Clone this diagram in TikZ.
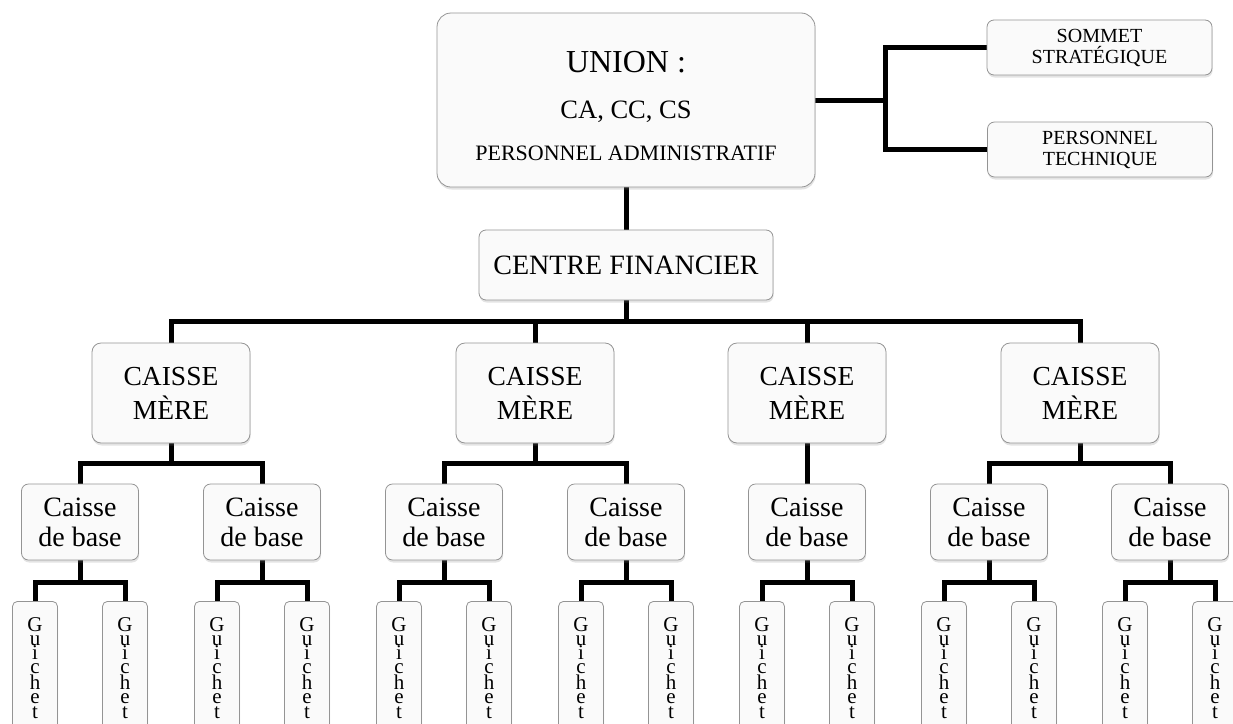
\documentclass[tikz,border=0pt]{standalone}
\usepackage{fontspec}
\setmainfont{Liberation Serif}
\usetikzlibrary{shadows,backgrounds}
\begin{document}
\begin{tikzpicture}[x=1pt,y=-1pt,
  box/.style={draw=black!42, line width=0.8pt, fill=black!2, rounded corners=7pt,
    drop shadow={shadow xshift=0.6pt, shadow yshift=-2.5pt, opacity=0.22},
    inner sep=0pt, align=center, text=black},
  link/.style={line width=5pt, line join=miter},
  lbl/.style={anchor=base, inner sep=0pt, text=black},
  cmbox/.style={box, minimum width=158pt, minimum height=100pt, rounded corners=9pt,
    font=\fontsize{27.5}{34}\selectfont},
  cdbbox/.style={box, minimum width=117pt, minimum height=76pt,
    font=\fontsize{28}{30}\selectfont},
  gbox/.style={box, anchor=north, minimum width=45pt, minimum height=133pt, rounded corners=5pt,
    font=\fontsize{21}{14.2}\selectfont},
  sidebox/.style={box, minimum width=225pt, minimum height=55pt,
    font=\fontsize{20}{21}\selectfont}
]
\useasboundingbox (0,0) rectangle (1233,723);
\clip (0,0) rectangle (1233,723);

% top
\node[box, minimum width=378pt, minimum height=174pt, rounded corners=14pt] (union) at (626,100) {};
\node[lbl, font=\fontsize{32}{32}\selectfont] (u1) at (626,72) {UNION :};
\node[lbl, font=\fontsize{26.5}{26}\selectfont] (u2) at (626,118) {CA, CC, CS};
\node[lbl, font=\fontsize{22}{22}\selectfont] (u3) at (626,160) {PERSONNEL ADMINISTRATIF};

\node[sidebox] (sommet) at (1099.5,47.5) {SOMMET\\STRATÉGIQUE};
\node[sidebox] (ptech) at (1100,149.5) {PERSONNEL\\TECHNIQUE};

\node[box, minimum width=294pt, minimum height=70pt, font=\fontsize{28}{28}\selectfont] (cf) at (626,265) {CENTRE FINANCIER};

% caisses meres
\node[cmbox] (cm1) at (171,393) {CAISSE\\MÈRE};
\node[cmbox] (cm2) at (535,393) {CAISSE\\MÈRE};
\node[cmbox] (cm3) at (807,393) {CAISSE\\MÈRE};
\node[cmbox] (cm4) at (1080,393) {CAISSE\\MÈRE};

% caisses de base and guichets
\foreach \i/\x/\xa/\xb in {1/80/35/125,2/262/217/307,3/444/399/489,4/626/581/671,5/807/762/852,6/989/944/1034,7/1170/1125/1215}{
  \node[cdbbox] (cdb\i) at (\x,522) {Caisse\\de base};
  \node[gbox] (ga\i) at (\xa,601) {G\\u\\i\\c\\h\\e\\t};
  \node[gbox] (gb\i) at (\xb,601) {G\\u\\i\\c\\h\\e\\t};
}

\begin{pgfonlayer}{background}
  \draw[link] (union.south) -- (cf.north);
  \draw[link] (union.east) -- ++(70,0) coordinate (rj);
  \draw[link] (sommet.west) -| (rj) |- (ptech.west);

  \draw[link] (cf.south) -- ++(0,21) coordinate (busc);
  \draw[link] (cm1.north) |- (busc) -| (cm4.north);
  \draw[link] (cm2.north) -- (cm2.north |- busc);
  \draw[link] (cm3.north) -- (cm3.north |- busc);

  \draw[link] (cm1.south) -- ++(0,20) coordinate (b1);
  \draw[link] (cdb1.north) |- (b1) -| (cdb2.north);
  \draw[link] (cm2.south) -- ++(0,20) coordinate (b2);
  \draw[link] (cdb3.north) |- (b2) -| (cdb4.north);
  \draw[link] (cm3.south) -- (cdb5.north);
  \draw[link] (cm4.south) -- ++(0,20) coordinate (b4);
  \draw[link] (cdb6.north) |- (b4) -| (cdb7.north);

  \foreach \i in {1,...,7}{
    \draw[link] (cdb\i.south) -- ++(0,22) coordinate (t\i);
    \draw[link] (ga\i.north) |- (t\i) -| (gb\i.north);
  }
\end{pgfonlayer}
\end{tikzpicture}
\end{document}
